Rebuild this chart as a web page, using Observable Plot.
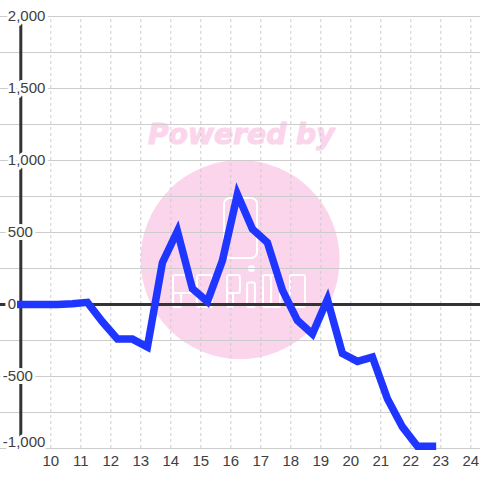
<!DOCTYPE html>
<html><head><meta charset="utf-8">
<script src="https://cdn.jsdelivr.net/npm/d3@7"></script>
<script src="https://cdn.jsdelivr.net/npm/@observablehq/plot@0.6"></script>
<style>html,body{margin:0;padding:0;background:#fff}svg{display:block}</style>
</head><body><div id="c"></div>
<script>
const hours = [9,10.22,10.72,11.22,11.72,12.22,12.72,13.22,13.72,14.22,14.72,15.22,15.72,16.22,16.72,17.22,17.72,18.22,18.72,19.22,19.72,20.22,20.72,21.22,21.72,22.22,22.72];
const values = [0,0,5,15,-120,-240,-240,-295,290,510,110,20,305,765,525,430,100,-110,-205,35,-340,-395,-365,-655,-850,-985,-985];
const xTicks = [10,11,12,13,14,15,16,17,18,19,20,21,22,23,24];
const yGrid = [-1000,-750,-500,-250,0,250,500,750,1000,1250,1500,1750,2000];
const yPositive = [0,500,1000,1500,2000];
const yNegative = [-500];
const yBottom = [-1000];
// watermark logo outlines: [h1, h2, v1, v2]
const logoRects = [
  [14.09,14.76,76,201],[14.09,14.36,-21,76],
  [14.89,15.39,-21,201],
  [15.89,16.32,76,201],[15.89,16.09,-21,76],
  [16.56,16.82,-21,150],
  [17.09,17.36,-21,201],[17.36,17.66,-21,201],
  [17.99,18.49,-21,201]
];
const series = hours.map((h,i)=>({h,v:values[i]}));
const fmt = d => d3.format(",")(d).replace("−","-");
const ff = "'Liberation Sans',sans-serif";
const labelStyle = {y:d=>d,text:fmt,textAnchor:"start",fill:"#404040",stroke:"#fff",strokeWidth:6,paintOrder:"stroke",fontSize:15,fontFamily:ff};
const chart = Plot.plot({
  width:480,height:480,margin:0,
  style:{background:"#fff",fontFamily:ff},
  x:{domain:[9,24.323],range:[20.3,480],axis:null},
  y:{domain:[-1000,2000],range:[448,16],axis:null},
  marks:[
    Plot.dot([{h:16.31,v:312}],{x:"h",y:"v",r:99.5,fill:"#fbd5ec"}),
    Plot.text(["Powered by"],{x:16.35,y:1180,text:d=>d,fill:"#fbd5ec",stroke:"#fbd5ec",strokeWidth:1.1,fontSize:28.2,fontWeight:"bold",fontStyle:"italic",fontFamily:"'DejaVu Sans',sans-serif"}),
    Plot.rect([{x1:15.79,x2:16.89,y1:319,y2:736}],{x1:"x1",x2:"x2",y1:"y1",y2:"y2",fill:"none",stroke:"#fff",strokeWidth:2,rx:6}),
    Plot.rect(logoRects,{x1:d=>d[0],x2:d=>d[1],y1:d=>d[2],y2:d=>d[3],fill:"none",stroke:"#fff",strokeWidth:2,rx:2}),
    Plot.dot([{h:16.69,v:250}],{x:"h",y:"v",r:3.5,fill:"#fff"}),
    Plot.ruleY(yGrid,{stroke:"#ccc",strokeWidth:1.2}),
    Plot.ruleX(xTicks,{y1:-1000,y2:2000,stroke:"#ccc",strokeWidth:1,strokeDasharray:"3 3"}),
    Plot.ruleX([9],{y1:-1000,y2:2000,stroke:"#333",strokeWidth:3}),
    Plot.ruleY([0],{stroke:"#333",strokeWidth:3}),
    Plot.text(yPositive,{...labelStyle,x:9,dx:-13}),
    Plot.text(yNegative,{...labelStyle,x:9,dx:-18}),
    Plot.text(yBottom,{...labelStyle,x:9,dx:-18,dy:-6}),
    Plot.text(xTicks,{x:d=>d,y:-1000,dy:13,text:d=>String(d),fill:"#404040",fontSize:15,fontFamily:ff}),
    Plot.line(series,{x:"h",y:"v",stroke:"#1e36ff",strokeWidth:7.5,strokeLinejoin:"miter",strokeLinecap:"square",strokeMiterlimit:10,curve:"linear"})
  ]
});
document.getElementById("c").appendChild(chart);
</script></body></html>
